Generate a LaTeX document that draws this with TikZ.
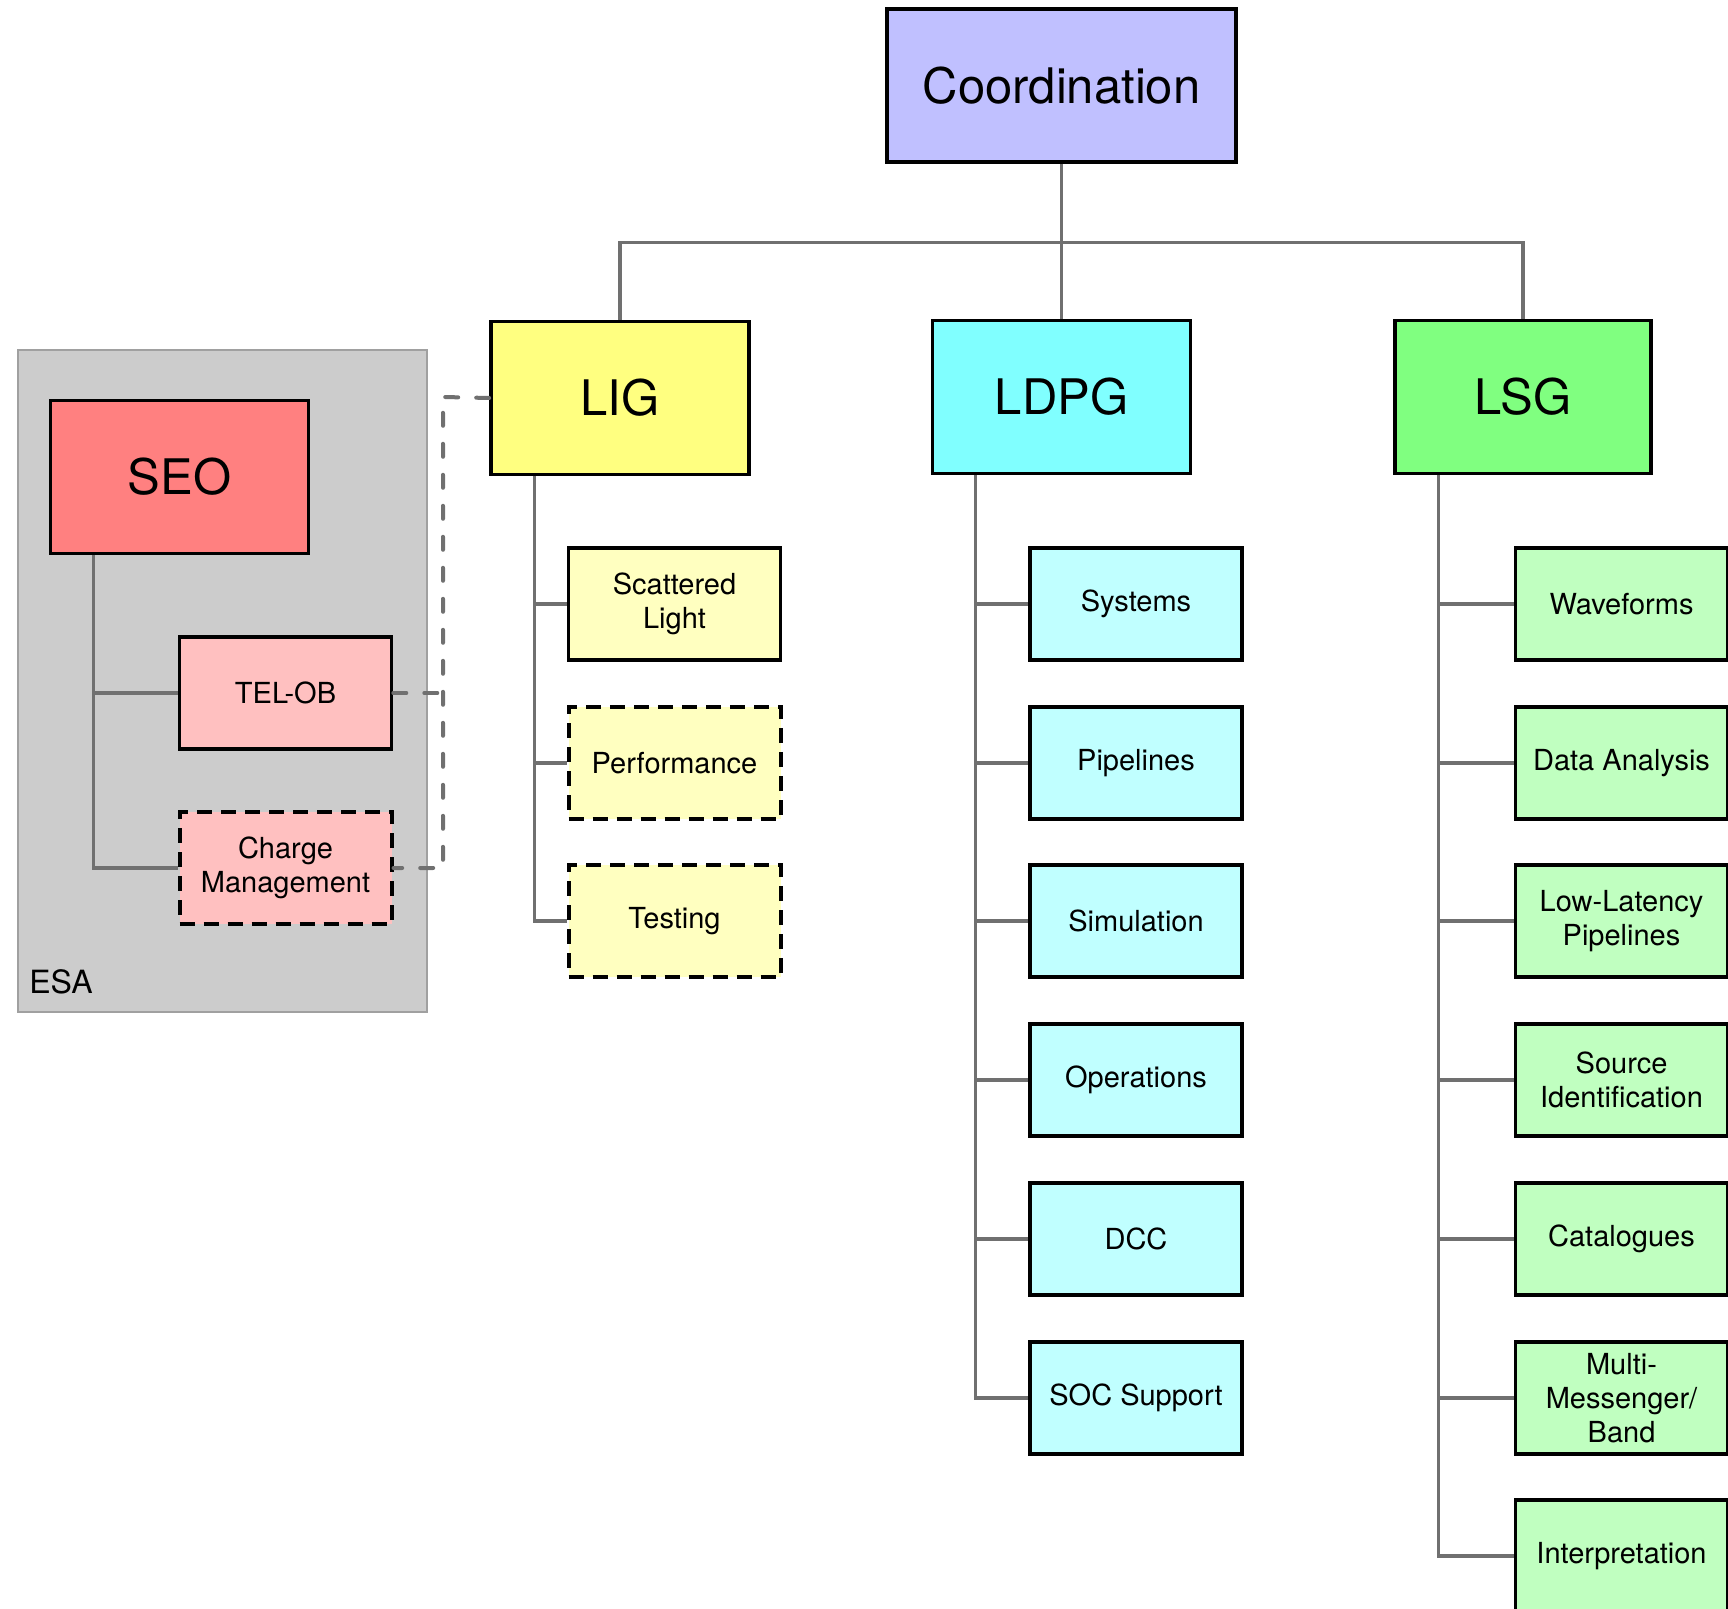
\documentclass[tikz,border=0pt]{standalone}
\usepackage{fontspec}
\setmainfont{TeX Gyre Heros}

\definecolor{coordblue}{HTML}{C0C0FF}
\definecolor{ligyellow}{HTML}{FFFF80}
\definecolor{ldpgcyan}{HTML}{80FFFF}
\definecolor{lsggreen}{HTML}{80FF80}
\definecolor{seored}{HTML}{FF8080}
\definecolor{ligsub}{HTML}{FFFFC0}
\definecolor{ldpgsub}{HTML}{C0FFFF}
\definecolor{lsgsub}{HTML}{C0FFC0}
\definecolor{seosub}{HTML}{FFC0C0}
\definecolor{esagray}{HTML}{CCCCCC}
\definecolor{esaedge}{HTML}{A0A0A0}
\definecolor{linkgray}{HTML}{707070}

\begin{document}
\begin{tikzpicture}
  [x=0.5pt,y=-0.5pt,
   box/.style={draw=black,line width=1.8pt,align=center,inner sep=2pt},
   head/.style={box,minimum width=129pt,minimum height=76.5pt,font=\fontsize{24.5}{29}\selectfont},
   sub/.style={box,minimum width=106pt,minimum height=56pt,font=\fontsize{14.5}{17}\selectfont},
   planned/.style={line width=2pt,dash pattern=on 7.5pt off 4.5pt},
   link/.style={draw=linkgray,line width=1.6pt},
   dlink/.style={link,line width=2pt,line cap=round,dash pattern=on 6.5pt off 9pt}]
  \useasboundingbox (0,0) rectangle (1728,1609);
  \clip (0,0) rectangle (1728,1609);

  % ESA frame
  \node[fill=esagray,draw=esaedge,line width=1pt,minimum width=204.5pt,minimum height=331pt,inner sep=0pt] (esa) at (222,681) {};
  \node[anchor=base west,inner sep=0pt,font=\fontsize{16}{19}\selectfont] (esalabel) at (29,993) {ESA};

  \node[head,fill=coordblue,minimum width=174.5pt] (coord) at (1061.5,85.5) {Coordination};
  \node[head,fill=ligyellow] (lig) at (620,398) {LIG};
  \node[head,fill=ldpgcyan] (ldpg) at (1061.5,397) {LDPG};
  \node[head,fill=lsggreen,minimum width=128pt] (lsg) at (1523,397) {LSG};
  \node[head,fill=seored] (seo) at (179.5,477) {SEO};

  \node[sub,fill=seosub] (telob) at (285.5,693) {TEL-OB};
  \node[sub,fill=seosub,planned] (chm) at (285.5,868) {Charge\\Management};

  \node[sub,fill=ligsub] (sl) at (674.5,604) {Scattered\\Light};
  \node[sub,fill=ligsub,planned] (perf) at (674.5,763) {Performance};
  \node[sub,fill=ligsub,planned] (test) at (674.5,921) {Testing};

  \node[sub,fill=ldpgsub] (sys) at (1136,604) {Systems};
  \node[sub,fill=ldpgsub] (pipe) at (1136,763) {Pipelines};
  \node[sub,fill=ldpgsub] (sim) at (1136,921) {Simulation};
  \node[sub,fill=ldpgsub] (ops) at (1136,1080) {Operations};
  \node[sub,fill=ldpgsub] (dcc) at (1136,1239) {DCC};
  \node[sub,fill=ldpgsub] (soc) at (1136,1398) {SOC Support};

  \node[sub,fill=lsgsub] (wave) at (1621.5,604) {Waveforms};
  \node[sub,fill=lsgsub] (data) at (1621.5,763) {Data Analysis};
  \node[sub,fill=lsgsub] (llp) at (1621.5,921) {Low-Latency\\Pipelines};
  \node[sub,fill=lsgsub] (srcid) at (1621.5,1080) {Source\\Identification};
  \node[sub,fill=lsgsub] (cat) at (1621.5,1239) {Catalogues};
  \node[sub,fill=lsgsub] (mmb) at (1621.5,1398) {Multi-\\Messenger/\\Band};
  \node[sub,fill=lsgsub] (interp) at (1621.5,1556) {Interpretation};

  \draw[link] (coord) -- (ldpg);
  \foreach \to in {lig,lsg}
    \draw[link] (coord.south) -- ++(0,79) -| (\to.north);
  \foreach \from/\to in {seo/telob,seo/chm,lig/sl,lig/perf,lig/test,
      ldpg/sys,ldpg/pipe,ldpg/sim,ldpg/ops,ldpg/dcc,ldpg/soc,
      lsg/wave,lsg/data,lsg/llp,lsg/srcid,lsg/cat,lsg/mmb,lsg/interp}
    \draw[link] ([xshift=22.5pt]\from.south west) |- (\to.west);

  % dashed ties to LIG
  \coordinate (tie) at (443,397);
  \draw[dlink] (lig.west) -- (tie) |- (chm.east);
  \draw[dlink] (telob.east) -- (telob.east -| tie);
\end{tikzpicture}
\end{document}
